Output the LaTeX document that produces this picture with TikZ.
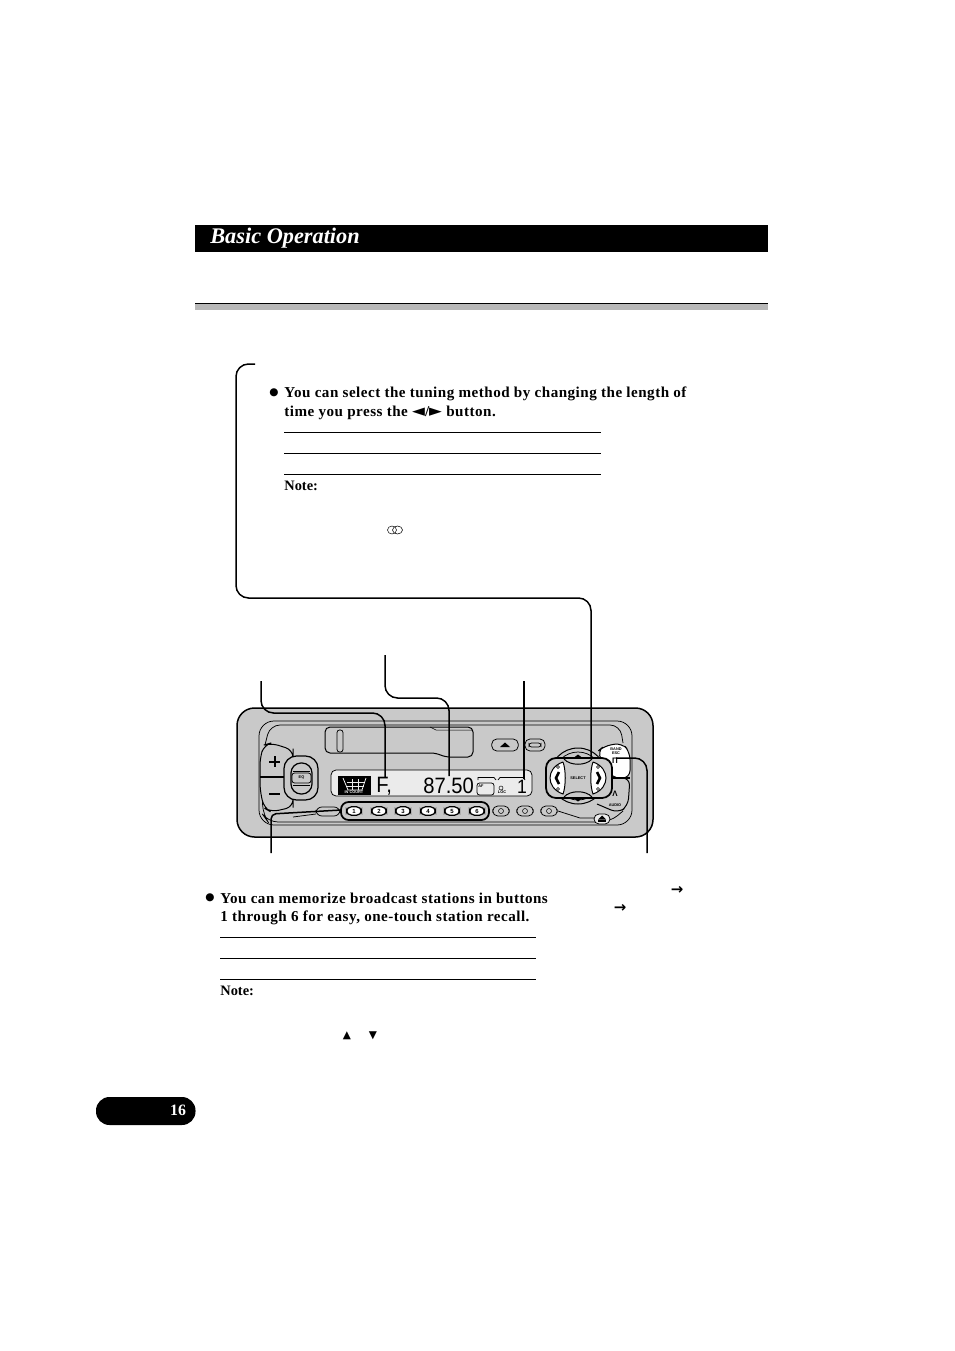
\documentclass[tikz,border=0pt]{standalone}
\usepackage{fontspec}
\setmainfont{Liberation Serif}
\newfontfamily\bodyfont[LetterSpace=3.2]{Liberation Serif}
\newfontfamily\symfont{DejaVu Sans}
\setsansfont{Liberation Sans}
\definecolor{panelgray}{gray}{.79}
\definecolor{lcdgray}{gray}{.92}
\definecolor{rulegray}{gray}{.72}
\tikzset{
  leader/.style={line width = .3mm, rounded corners=2.5mm},
  thinrule/.style={line width = .2mm},
  bodytext/.style={anchor=west, inner sep=0pt, font=\bodyfont\bfseries\fontsize{8.6}{9}\selectfont},
  notetext/.style={anchor=west, inner sep=0pt, font=\bfseries\fontsize{8.2}{9}\selectfont},
  numkey/.style={draw, fill=white, line width = .25mm, rounded corners=1mm, minimum width=.3cm, minimum height=.17cm, inner sep=0pt, font=\sffamily\bfseries\fontsize{3.4}{4}\selectfont},
  graykey/.style={draw, line width = .15mm, rounded corners=1mm, minimum width=.33cm, minimum height=.2cm, inner sep=0pt},
  tiny/.style={inner sep=0pt, font=\sffamily\bfseries\fontsize{2.2}{2.6}\selectfont},
  lcd/.style={inner sep=0pt, yscale=1.1, font=\sffamily\fontsize{11.5}{12}\selectfont}
}
\begin{document}
\begin{tikzpicture}[x=.02cm, y=-.02cm]
  \useasboundingbox (0, 0) rectangle (954, 1351);

  %%header
  \fill (195, 225) rectangle (768, 252);
  \node[anchor=west, inner sep=0pt, text=white, font=\bfseries\itshape\fontsize{12.7}{14}\selectfont] (title) at (210, 238.5) {Basic Operation};
  \fill[rulegray] (195, 304) rectangle (768, 310);
  \draw[line width = .4mm] (195, 303.5) to (768, 303.5);

  %%upper text
  \node[bodytext, anchor=center] (dotone) at (274, 393) {\symfont\fontsize{6}{7}\selectfont●};
  \node[bodytext] (tuneone) at (284, 393.5) {You can select the tuning method by changing the length of};
  \node[bodytext] (tunetwo) at (284, 412.5) {time you press the {\symfont\fontsize{9.5}{9}\selectfont◄}/{\symfont\fontsize{9.5}{9}\selectfont►} button.};
  \draw[thinrule] (284, 432.5) to (601, 432.5);
  \draw[thinrule] (284, 453.5) to (601, 453.5);
  \draw[thinrule] (284, 474.5) to (601, 474.5);
  \node[notetext] (noteone) at (284, 486) {Note:};
  \draw[line width = .1mm] (392, 530) ellipse (4.5 and 4);
  \draw[line width = .1mm] (397.5, 530) ellipse (5 and 4);

  %%panel
  \draw[fill=panelgray, line width = .3mm, rounded corners=3.5mm] (237, 708) rectangle (653, 837);
  \draw[line width = .15mm, rounded corners=3mm] (259, 721) rectangle (632, 825);
  \draw[line width = .15mm, rounded corners=2mm] (265, 745) to (270, 725) to (620, 725) to (623, 743);
  \draw[line width = .15mm, rounded corners=2mm] (262, 790) to (263, 815) to (268, 822) to (610, 822) to (623, 811);

  %%slot
  \draw[line width = .2mm, rounded corners=1mm] (325, 727) to (473, 727) to (473, 757) to (445, 757) to (436, 753) to (325, 753) -- cycle;
  \draw[line width = .15mm, rounded corners=.5mm] (337, 730) rectangle (343, 752);
  \draw[line width = .1mm] (430, 727) to (436, 730) to (473, 730);

  %%eject
  \node[graykey, minimum width=.53cm, minimum height=.24cm] (ejectkey) at (505, 745) {};
  \fill (500, 747) to (510, 747) to (505, 742.5) -- cycle;
  \node[graykey, minimum width=.4cm, minimum height=.24cm] (clockkey) at (535, 745) {};
  \draw[line width = .15mm, rounded corners=.5mm] (529, 743) rectangle (541, 747);

  %%volume
  \draw[fill=panelgray, line width = .2mm, rounded corners=1.5mm] (293, 756) to (293, 750) to (271, 743) to (264, 745) to (260, 758) to (260, 790) to (264, 808) to (271, 812) to (293, 807) to (293, 800) -- cycle;
  \draw[line width = .3mm] (260, 777) to (285, 777);
  \fill (269, 760.5) rectangle (280, 762.5);
  \fill (273.5, 756) rectangle (275.5, 767);
  \fill (269, 793) rectangle (280, 795);
  \draw[fill=panelgray, line width = .25mm, rounded corners=2.5mm] (284, 756) rectangle (318, 800);
  \draw[line width = .25mm, rounded corners=2mm] (291, 763) rectangle (312, 794);
  \draw[line width = .2mm] (293, 771) to (310, 771);
  \draw[line width = .2mm] (293, 785) to (310, 785);
  \draw[line width = .15mm, rounded corners=.5mm] (292, 773) rectangle (311, 783);
  \node[tiny] (volmark) at (301.5, 778) {EQ};

  %%lcd
  \draw[fill=lcdgray, line width = .15mm, rounded corners=1mm] (331, 770) rectangle (532, 796);
  \fill (338, 776) rectangle (371, 795);
  \draw[white, line width = .15mm] (343, 778) to (348, 790) to (362, 790) to (366, 778);
  \draw[lcdgray, line width = .1mm] (347, 782) to (364, 782);
  \draw[lcdgray, line width = .1mm] (347, 786) to (364, 786);
  \draw[lcdgray, line width = .1mm] (352, 779) to (352, 790);
  \draw[lcdgray, line width = .1mm] (358, 779) to (358, 790);
  \node[tiny, text=lcdgray] (lcdnote) at (354, 792.5) {IN COURT};
  \node[lcd, anchor=west] (bandlcd) at (376, 786) {F,};
  \node[lcd, anchor=west] (freqlcd) at (423, 786) {87.50};
  \node[lcd, anchor=center, font=\sffamily\fontsize{10}{10}\selectfont] (chanlcd) at (522, 787) {1};
  \draw[line width = .15mm] (478, 780) to (478, 777.5) to (494, 777.5) to (496, 780);
  \draw[line width = .15mm] (498, 780) to (500, 777.5) to (523, 777.5) to (525, 780);
  \draw[line width = .15mm, rounded corners=.5mm] (477, 783) rectangle (494, 795);
  \node[tiny, anchor=west] (afmark) at (478, 786) {AF};
  \draw[line width = .1mm] (501, 788) circle (2);
  \node[tiny] (lcdsmall) at (502, 792.5) {LOC};

  %%preset strip
  \draw[fill=panelgray, line width = .15mm, rounded corners=1.2mm] (316, 807) rectangle (340, 816);
  \draw[line width = .35mm, rounded corners=1.5mm] (341, 802) rectangle (489, 820);
  \foreach \keyx/\keylabel in {354/1, 379/2, 403/3, 428/4, 452/5, 477/6}{
    \node[numkey] (key\keylabel) at (\keyx, 811) {\keylabel};
  }
  \foreach \keyx/\keyname in {501/a, 525/b, 549/c}{
    \node[graykey] (gray\keyname) at (\keyx, 811) {};
    \draw[line width = .1mm] (\keyx, 811) circle (2.5);
  }
  \draw[line width = .15mm] (293, 817) to (316, 814);
  \draw[line width = .15mm] (558, 811) to (580, 818) to (594, 818);
  \draw[line width = .15mm, fill=lcdgray, rounded corners=1mm] (594, 814) rectangle (610, 824);
  \fill (598, 820) rectangle (606, 822);
  \fill (598, 819.5) to (606, 819.5) to (602, 815.5) -- cycle;

  %%band and audio
  \draw[fill=white, line width = .2mm, rounded corners=1.5mm] (597, 752) to (604, 746) to (622, 743) to (630, 752) to (630, 778) to (612, 778) -- cycle;
  \draw[line width = .2mm, rounded corners=1.5mm] (612, 778) to (630, 778) to (628, 806) to (618, 813) to (597, 804);
  \draw[line width = .35mm] (613, 778) to (630, 778);
  \node[tiny, align=center] (bandmark) at (616, 751) {BAND\\ESC};
  \node[inner sep=0pt, font=\sffamily\bfseries\fontsize{4.5}{5}\selectfont] (bandarrow) at (615, 761) {Π};
  \node[inner sep=0pt, font=\sffamily\bfseries\fontsize{4.5}{5}\selectfont] (audioarrow) at (615, 794) {Λ};
  \node[tiny] (audiomark) at (615, 805) {AUDIO};

  %%select
  \draw[fill=panelgray, line width = .2mm] (578, 776) circle (28);
  \draw[line width = .15mm] (578, 776) circle (24);
  \draw[fill=panelgray, line width = .35mm, rounded corners=2mm] (546, 758) rectangle (612, 798);
  \draw[fill=white, line width = .2mm] (563, 762) .. controls (554, 765) and (550, 772) .. (550, 778) .. controls (550, 784) and (554, 791) .. (563, 794) .. controls (566, 786) and (566, 770) .. (563, 762);
  \draw[fill=white, line width = .2mm] (593, 762) .. controls (602, 765) and (606, 772) .. (606, 778) .. controls (606, 784) and (602, 791) .. (593, 794) .. controls (590, 786) and (590, 770) .. (593, 762);
  \draw[line width = .2mm] (564, 759) .. controls (570, 766) and (586, 766) .. (592, 759);
  \draw[line width = .2mm] (564, 797) .. controls (570, 790) and (586, 790) .. (592, 797);
  \draw[line width = .5mm] (559, 772) to (556, 778) to (559, 784);
  \draw[line width = .5mm] (597, 772) to (600, 778) to (597, 784);
  \foreach \padx in {558, 598}{
    \draw[line width = .1mm] (\padx, 767) circle (1.5);
    \draw[line width = .1mm] (\padx, 789) circle (1.5);
  }
  \node[tiny] (selectmark) at (578, 778) {SELECT};
  \fill (574, 757.5) to (582, 757.5) to (578, 754.5) -- cycle;
  \fill (574, 798.5) to (582, 798.5) to (578, 801.5) -- cycle;

  %%leaders
  \coordinate (bandtop) at (261, 681);
  \coordinate (bandend) at (385, 777);
  \coordinate (freqtop) at (385, 655);
  \coordinate (freqend) at (449, 776);
  \coordinate (chantop) at (524, 681);
  \coordinate (chanend) at (524, 779);
  \coordinate (tunetop) at (255, 364);
  \coordinate (tuneend) at (591, 758);
  \coordinate (voltop) at (271, 853);
  \coordinate (volend) at (341, 810);
  \coordinate (esctop) at (647, 853);
  \coordinate (escend) at (616, 758);
  \draw[leader] (bandtop) to (261, 713) to (385, 713) to (bandend);
  \draw[leader] (freqtop) to (385, 698) to (449, 698) to (freqend);
  \draw[leader] (chantop) to (chanend);
  \draw[leader] (tunetop) to (236, 364) to (236, 598) to (591, 598) to (tuneend);
  \draw[leader, rounded corners=1mm] (voltop) to (271, 814) to (volend);
  \draw[leader] (esctop) to (647, 758) to (escend);

  %%lower text
  \node[bodytext, anchor=center] (dottwo) at (210, 898) {\symfont\fontsize{6}{7}\selectfont●};
  \node[bodytext] (memoone) at (220, 898.5) {You can memorize broadcast stations in buttons};
  \node[bodytext] (memotwo) at (220, 917.5) {1 through 6 for easy, one-touch station recall.};
  \draw[thinrule] (220, 937.5) to (536, 937.5);
  \draw[thinrule] (220, 958.5) to (536, 958.5);
  \draw[thinrule] (220, 979.5) to (536, 979.5);
  \node[notetext] (notetwo) at (220, 991) {Note:};
  \node[inner sep=0pt, font=\symfont\fontsize{6}{7}\selectfont] (upmark) at (347, 1036) {▲};
  \node[inner sep=0pt, font=\symfont\fontsize{6}{7}\selectfont] (downmark) at (373, 1036) {▼};
  \node[inner sep=0pt, font=\symfont\bfseries\fontsize{8.5}{9}\selectfont] (arrowone) at (677, 890.5) {→};
  \node[inner sep=0pt, font=\symfont\bfseries\fontsize{8.5}{9}\selectfont] (arrowtwo) at (620, 908.5) {→};

  %%page tag
  \fill[rounded corners=2.7mm] (96, 1097) rectangle (195.5, 1125);
  \node[inner sep=0pt, text=white, font=\bfseries\fontsize{9}{10}\selectfont] (pagenum) at (178, 1110) {16};
\end{tikzpicture}
\end{document}
